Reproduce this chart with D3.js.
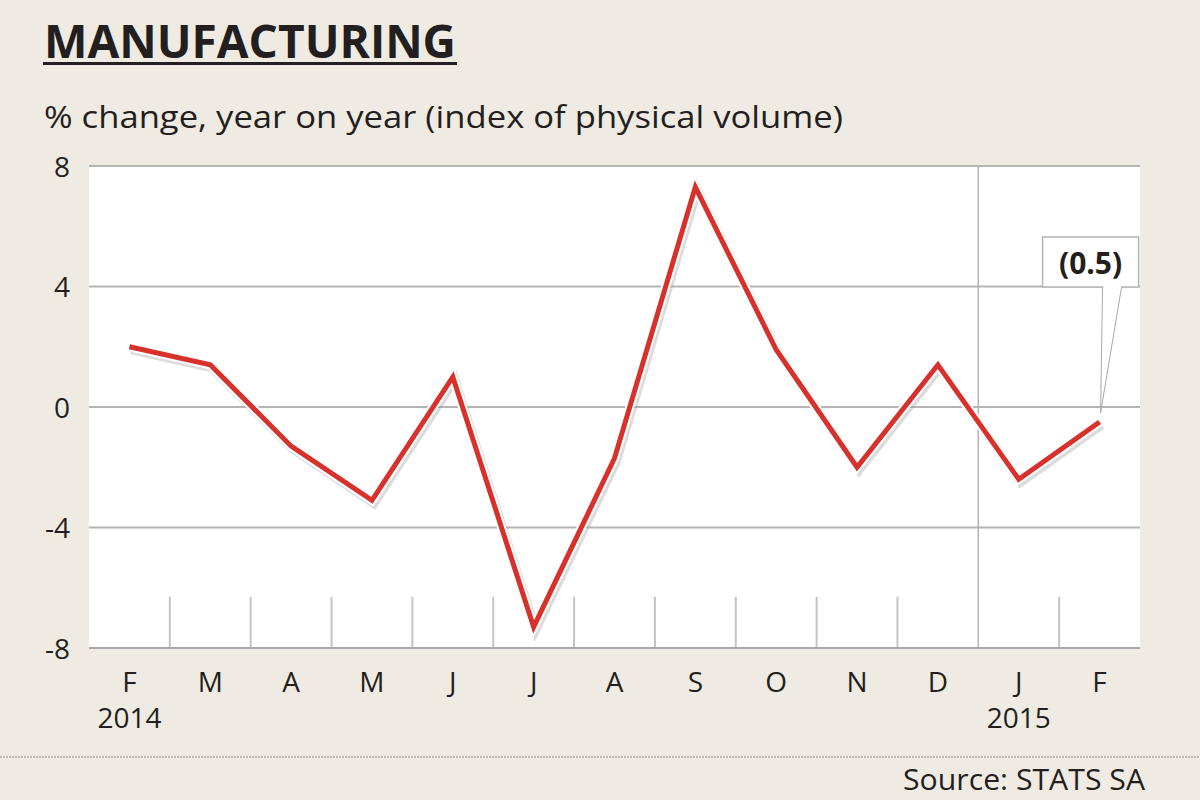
<!DOCTYPE html>
<html>
<head>
<meta charset="utf-8">
<script src="https://cdn.jsdelivr.net/npm/d3@7"></script>
<style>
  html, body { margin: 0; padding: 0; background: #efebe3; }
  svg { display: block; }
  text { font-family: "Open Sans", "DejaVu Sans", sans-serif; fill: #231f20; }
</style>
</head>
<body>
<svg id="chart" width="1200" height="800"></svg>
<script>
// ---- data ----
const months = ["F", "M", "A", "M", "J", "J", "A", "S", "O", "N", "D", "J", "F"];
const values = [2.0, 1.4, -1.3, -3.1, 1.0, -7.3, -1.7, 7.3, 1.9, -2.0, 1.4, -2.4, -0.5];
const yearLabels = ["2014", "2015"];
const yearStartIndex = [0, 11];
const yTicks = [8, 4, 0, -4, -8];
const gridTicks = [8, 4, 0, -4];
const calloutLabel = "(0.5)";
const calloutIndex = 12;

const titleText = "MANUFACTURING";
const subtitleText = "% change, year on year (index of physical volume)";
const sourceText = "Source: STATS SA";

// ---- layout ----
const W = 1200, H = 800;
const plot = { left: 89, right: 1140, top: 166, bottom: 648 };
const svg = d3.select("#chart");

svg.append("rect").attr("width", W).attr("height", H).attr("fill", "#efebe3");

// title
svg.append("text")
  .attr("x", 44).attr("y", 58)
  .attr("font-size", 46).attr("font-weight", 700)
  .attr("textLength", 412).attr("lengthAdjust", "spacingAndGlyphs")
  .text(titleText);
svg.append("rect").attr("x", 43).attr("y", 62).attr("width", 414).attr("height", 3).attr("fill", "#231f20");

svg.append("text")
  .attr("x", 44).attr("y", 128)
  .attr("font-size", 31)
  .attr("textLength", 799).attr("lengthAdjust", "spacingAndGlyphs")
  .text(subtitleText);

// scales
const idx = d3.range(months.length);
const x = d3.scaleBand().domain(idx).range([plot.left, plot.right]).paddingInner(0).paddingOuter(0);
const xc = i => x(i) + x.bandwidth() / 2;
const y = d3.scaleLinear().domain([-8, 8]).range([plot.bottom, plot.top]);

// plot background
svg.append("rect")
  .attr("x", plot.left).attr("y", plot.top)
  .attr("width", plot.right - plot.left).attr("height", plot.bottom - plot.top)
  .attr("fill", "#ffffff");

// horizontal gridlines
svg.append("g").selectAll("line").data(gridTicks).join("line")
  .attr("x1", plot.left).attr("x2", plot.right)
  .attr("y1", d => y(d)).attr("y2", d => y(d))
  .attr("stroke", "#b4b4b4").attr("stroke-width", 2);

// short month separators at bottom
svg.append("g").selectAll("line").data(idx.slice(1).filter(i => !yearStartIndex.includes(i))).join("line")
  .attr("x1", d => x(d)).attr("x2", d => x(d))
  .attr("y1", y(-6.3)).attr("y2", plot.bottom)
  .attr("stroke", "#c4c4c4").attr("stroke-width", 2);

// year divider
svg.append("g").selectAll("line").data(yearStartIndex.filter(i => i > 0)).join("line")
  .attr("x1", d => x(d)).attr("x2", d => x(d))
  .attr("y1", plot.top).attr("y2", plot.bottom)
  .attr("stroke", "#b4b4b4").attr("stroke-width", 1.5);

// bottom axis line
svg.append("line")
  .attr("x1", plot.left).attr("x2", plot.right)
  .attr("y1", plot.bottom).attr("y2", plot.bottom)
  .attr("stroke", "#a8a8a8").attr("stroke-width", 2);

// y axis labels
const yAxis = svg.append("g")
  .attr("transform", `translate(${plot.left - 19},0)`)
  .call(d3.axisLeft(y).tickValues(yTicks).tickSize(0).tickPadding(0).tickFormat(d => String(d)));
yAxis.select(".domain").remove();
yAxis.selectAll("text").attr("font-size", 28).attr("font-family", "Open Sans, sans-serif").attr("fill", "#231f20").attr("dy", "0.36em");

// x axis labels
const xAxis = svg.append("g")
  .attr("transform", `translate(0,${plot.bottom})`)
  .call(d3.axisBottom(x).tickSize(0).tickPadding(0).tickFormat(i => months[i]));
xAxis.select(".domain").remove();
xAxis.selectAll("text").attr("font-size", 28).attr("font-family", "Open Sans, sans-serif")
  .attr("fill", "#231f20").attr("y", 44).attr("dy", 0);

// year labels
svg.append("g").selectAll("text").data(yearLabels).join("text")
  .attr("x", (d, i) => xc(yearStartIndex[i]))
  .attr("y", 728)
  .attr("text-anchor", "middle")
  .attr("font-size", 28)
  .text(d => d);

// line
const line = d3.line().x((d, i) => xc(i)).y(d => y(d)).curve(d3.curveLinear);
svg.append("path").datum(values)
  .attr("d", line).attr("fill", "none")
  .attr("stroke", "#9a9a9a").attr("stroke-opacity", 0.35)
  .attr("stroke-width", 9).attr("stroke-linejoin", "miter")
  .attr("transform", "translate(2,3)");
svg.append("path").datum(values)
  .attr("d", line).attr("fill", "none")
  .attr("stroke", "#ffffff").attr("stroke-width", 9).attr("stroke-linejoin", "miter");
svg.append("path").datum(values)
  .attr("d", line).attr("fill", "none")
  .attr("stroke", "#d8312c").attr("stroke-width", 5).attr("stroke-linejoin", "miter");

// callout
const px = xc(calloutIndex), py = y(values[calloutIndex]);
const box = { x: px - 57, y: 237, w: 96, h: 50 };
svg.append("path")
  .attr("d", `M${px + 3},${box.y + box.h} L${px + 1},${py - 9} L${px + 22},${box.y + box.h}`)
  .attr("fill", "#ffffff").attr("stroke", "#a8a8a8").attr("stroke-width", 1);
svg.append("rect")
  .attr("x", box.x).attr("y", box.y).attr("width", box.w).attr("height", box.h)
  .attr("fill", "#ffffff").attr("stroke", "#b4b4b4").attr("stroke-width", 1.5);
svg.append("rect")
  .attr("x", px + 3.8).attr("y", box.y + box.h - 2).attr("width", 17.5).attr("height", 4)
  .attr("fill", "#ffffff");
svg.append("text")
  .attr("x", box.x + box.w / 2).attr("y", box.y + 37)
  .attr("text-anchor", "middle")
  .attr("font-size", 30).attr("font-weight", 700)
  .text(calloutLabel);

// dotted divider
svg.append("line")
  .attr("x1", 0).attr("x2", W).attr("y1", 757).attr("y2", 757)
  .attr("stroke", "#b0aca4").attr("stroke-width", 1.5).attr("stroke-dasharray", "2,1");

// source
svg.append("text")
  .attr("x", 1145).attr("y", 790)
  .attr("text-anchor", "end")
  .attr("font-size", 29)
  .attr("textLength", 242).attr("lengthAdjust", "spacingAndGlyphs")
  .text(sourceText);
</script>
</body>
</html>
